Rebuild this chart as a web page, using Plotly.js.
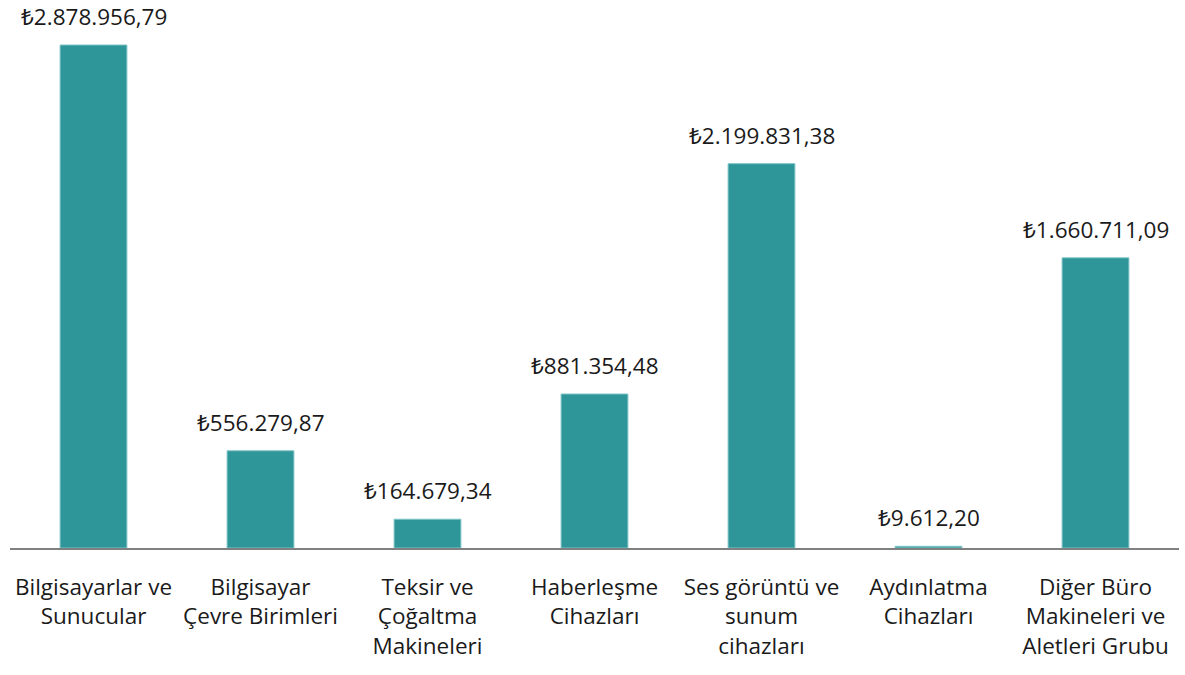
<!DOCTYPE html>
<html>
<head>
<meta charset="utf-8">
<script src="https://cdn.plot.ly/plotly-3.0.1.min.js"></script>
<style>
  html, body { margin: 0; padding: 0; background: #fff; }
  #chart { width: 1185px; height: 675px; }
</style>
</head>
<body>
<div id="chart"></div>
<script>
const categories = [
  "Bilgisayarlar ve<br>Sunucular",
  "Bilgisayar<br>Çevre Birimleri",
  "Teksir ve<br>Çoğaltma<br>Makineleri",
  "Haberleşme<br>Cihazları",
  "Ses görüntü ve<br>sunum<br>cihazları",
  "Aydınlatma<br>Cihazları",
  "Diğer Büro<br>Makineleri ve<br>Aletleri Grubu"
];
const values = [2878956.79, 556279.87, 164679.34, 881354.48, 2199831.38, 9612.20, 1660711.09];

// Turkish currency format: ₺1.234.567,89
function tl(v) {
  const parts = v.toFixed(2).split(".");
  const intPart = parts[0].replace(/\B(?=(\d{3})+(?!\d))/g, ".");
  return "₺" + intPart + "," + parts[1];
}

const FONT = "'Open Sans', 'Noto Sans', 'DejaVu Sans', sans-serif";

const annotations = values.map((v, i) => ({
  x: categories[i],
  y: v,
  text: tl(v),
  showarrow: false,
  yanchor: "bottom",
  yshift: 11,
  font: { family: FONT, size: 22.5, color: "#1a1a1a" }
}));

Plotly.newPlot("chart", [{
  x: categories,
  y: values,
  type: "bar",
  marker: { color: "#2e9599", line: { color: "#7fc4c6", width: 1 } },
  hoverinfo: "skip"
}], {
  width: 1185,
  height: 675,
  margin: { t: 0, b: 127, l: 10, r: 6 },
  paper_bgcolor: "#fff",
  plot_bgcolor: "#fff",
  bargap: 0.6,
  showlegend: false,
  xaxis: {
    showline: true,
    linecolor: "#808080",
    linewidth: 2,
    ticks: "",
    ticklabelstandoff: 18,
    tickfont: { family: FONT, size: 22.5, color: "#1a1a1a" },
    fixedrange: true
  },
  yaxis: {
    range: [0, 3136500],
    visible: false,
    showgrid: false,
    zeroline: false,
    fixedrange: true
  },
  annotations: annotations
}, { displayModeBar: false, staticPlot: true });
</script>
</body>
</html>
